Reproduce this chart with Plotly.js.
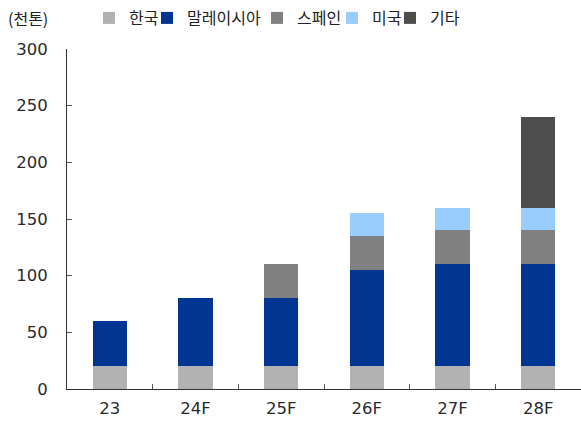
<!DOCTYPE html>
<html><head><meta charset="utf-8">
<script src="https://cdn.plot.ly/plotly-3.0.1.min.js"></script>
<style>html,body{margin:0;padding:0;background:#fff}</style>
</head><body>
<div id="chart" style="width:581px;height:426px"></div>
<script>
const categories = ["23","24F","25F","26F","27F","28F"];
const korea = [20,20,20,20,20,20];
const malaysia = [40,60,60,85,90,90];
const spain = [null,null,30,30,30,30];
const usa = [null,null,null,20,20,20];
const others = [null,null,null,null,null,80];
const seriesNames = ["한국","말레이시아","스페인","미국","기타"];
const colors = ["#b2b2b2","#003591","#808080","#99ccff","#4d4d4d"];
const values = [korea, malaysia, spain, usa, others];

const W = 581, ML = 67, MR = 0, PW = W - ML - MR;
// legend text start positions (px) of each entry
const legendTextX = [129, 187, 297, 372, 430];
const legendIds = ['legend','legend2','legend3','legend4','legend5'];

const traces = values.map((v,i)=>({
  type:'bar', name:seriesNames[i], x:categories, y:v,
  marker:{color:colors[i], line:{width:0}}, width:0.4, hoverinfo:'skip',
  legend: legendIds[i]
}));

const layout = {
  width:581, height:426,
  margin:{l:ML, r:MR, t:49, b:37, autoexpand:false},
  barmode:'stack',
  paper_bgcolor:'#fff', plot_bgcolor:'#fff',
  font:{family:'DejaVu Sans, sans-serif', size:17, color:'#2a2a2a'},
  showlegend:true,
  xaxis:{type:'category', showline:true, linecolor:'#333', linewidth:1,
    ticks:'inside', ticklen:5, tickcolor:'#555', tickson:'boundaries',
    showgrid:false, zeroline:false, tickfont:{size:16.5}, ticklabelstandoff:4},
  yaxis:{range:[0,300], dtick:50, showline:true, linecolor:'#333', linewidth:1,
    ticks:'inside', ticklen:5, tickcolor:'#555', showgrid:false, zeroline:false,
    tickfont:{size:16.5}, ticklabelstandoff:15},
  annotations:[{text:'(천톤)', xref:'paper', yref:'paper', x:(6-ML)/PW, y:1+(49-18)/340, xanchor:'left', yanchor:'middle',
    showarrow:false, font:{family:'Noto Sans CJK KR, sans-serif', size:16, color:'#222'}}]
};
legendIds.forEach((id,i)=>{
  layout[id] = {orientation:'h', x:(legendTextX[i]-40-ML)/PW, xanchor:'left',
    y:1+(49-18)/340, yanchor:'middle', bgcolor:'rgba(0,0,0,0)',
    font:{family:'Noto Sans CJK KR, sans-serif', size:16, color:'#222'},
    itemwidth:30, itemclick:false};
});
Plotly.newPlot('chart', traces, layout, {displayModeBar:false, staticPlot:true});
</script>
</body></html>
